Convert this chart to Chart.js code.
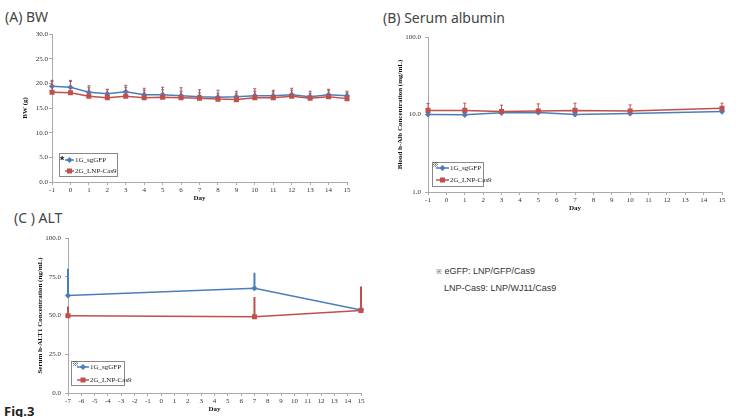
<!DOCTYPE html>
<html>
<head>
<meta charset="utf-8">
<script src="https://cdn.jsdelivr.net/npm/chart.js@4.4.1/dist/chart.umd.min.js"></script>
<style>
  body { margin: 0; width: 740px; height: 417px; background: #fff; position: relative; overflow: hidden; font-family: "Noto Sans", sans-serif; }
  canvas { position: absolute; }
  .title { position: absolute; font-size: 14px; line-height: 18px; color: #444; white-space: nowrap; }
  .fig { position: absolute; left: 4px; top: 403px; font-size: 13px; line-height: 16px; font-weight: bold; color: #222; }
  .note { position: absolute; font-family: "Liberation Sans", sans-serif; font-size: 9px; line-height: 12px; color: #333; white-space: nowrap; }
  .note small { font-size: 7px; }
</style>
</head>
<body>
<div class="title" style="left:5px; top:8px;">(A) BW</div>
<div class="title" style="left:383px; top:9px;">(B) Serum albumin</div>
<div class="title" style="left:14px; top:209px;">(C ) ALT</div>
<div class="fig">Fig.3</div>
<div class="note" style="left:436px; top:265px;"><small>※</small> eGFP: LNP/GFP/Cas9</div>
<div class="note" style="left:444px; top:282px;">LNP-Cas9: LNP/WJ11/Cas9</div>

<canvas id="bw_chart" width="350" height="180" style="left:12px; top:22px;"></canvas>
<canvas id="alb_chart" width="345" height="187" style="left:390px; top:25px;"></canvas>
<canvas id="alt_chart" width="345" height="188" style="left:30px; top:225px;"></canvas>

<script>
const seriesNames = ["1G_sgGFP", "2G_LNP-Cas9"];

// (A) body weight, g
const bwDays = [-1, 0, 1, 2, 3, 4, 5, 6, 7, 8, 9, 10, 11, 12, 13, 14, 15];
const bwSgGFP = [19.4, 19.2, 18.2, 17.9, 18.3, 17.7, 17.7, 17.5, 17.3, 17.2, 17.3, 17.5, 17.5, 17.7, 17.3, 17.7, 17.5];
const bwSgGFPErr = [1.0, 1.2, 0.9, 0.8, 0.9, 0.9, 1.0, 0.9, 0.8, 0.8, 0.7, 0.9, 0.8, 0.9, 0.7, 0.8, 0.6];
const bwLnpCas9 = [18.2, 18.1, 17.4, 17.1, 17.4, 17.1, 17.2, 17.1, 17.0, 16.8, 16.7, 17.1, 17.1, 17.4, 17.0, 17.3, 16.9];
const bwLnpCas9Err = [2.4, 2.5, 2.1, 1.7, 2.2, 1.9, 2.0, 2.0, 1.7, 1.8, 1.7, 1.8, 1.5, 1.6, 1.4, 1.5, 1.5];

// (B) serum albumin, mg/mL (log axis)
const albDays = [-1, 1, 3, 5, 7, 10, 15];
const albSgGFP = [10.0, 9.9, 10.5, 10.6, 10.0, 10.3, 10.9];
const albSgGFPErr = [0.4, 0.4, 0.3, 0.5, 0.3, 0.4, 0.4];
const albLnpCas9 = [11.3, 11.3, 10.9, 11.1, 11.3, 11.1, 12.0];
const albLnpCas9Err = [2.6, 2.7, 2.3, 2.6, 2.7, 2.2, 2.0];
const albTicks = [1, 10, 100];

// (C) ALT, ng/mL
const altDays = [-7, 7, 15];
const altSgGFP = [62.9, 67.6, 53.6];
const altSgGFPErr = [16.6, 9.3, 3.5];
const altLnpCas9 = [49.9, 49.2, 53.3];
const altLnpCas9Err = [5.2, 12.1, 14.7];

const blue = "#4a7ebb";
const red = "#c0504d";
const tickFont = { family: "Liberation Serif", size: 7 };
const titleFont = { family: "Liberation Serif", size: 7, weight: "bold" };

function toPoints(days, values) {
  return days.map((d, i) => ({ x: d, y: values[i] }));
}

// draws upward error bars through the y scale of the chart
const errorBarPlugin = {
  id: "errorBars",
  afterDatasetDraw(chart, args) {
    const ds = chart.data.datasets[args.index];
    if (!ds.errorBars) return;
    const ctx = chart.ctx;
    const yScale = chart.scales.y;
    ctx.save();
    ctx.strokeStyle = ds.errorColor;
    ctx.lineWidth = ds.errorWidth;
    args.meta.data.forEach((pt, j) => {
      const top = yScale.getPixelForValue(ds.data[j].y + ds.errorBars[j]);
      ctx.beginPath();
      ctx.moveTo(pt.x, pt.y);
      ctx.lineTo(pt.x, top);
      if (ds.errorCap) {
        ctx.moveTo(pt.x - ds.errorCap, top);
        ctx.lineTo(pt.x + ds.errorCap, top);
      }
      ctx.stroke();
    });
    ctx.restore();
  }
};

// boxed legend sitting inside the plot area, lower left
const boxLegendPlugin = {
  id: "boxLegend",
  afterDraw(chart, args, opts) {
    const ctx = chart.ctx;
    const area = chart.chartArea;
    const left = area.left + opts.dx;
    const top = area.bottom - opts.dy;
    ctx.save();
    ctx.fillStyle = "#fff";
    ctx.fillRect(left, top, opts.width, opts.height);
    ctx.strokeStyle = "#888";
    ctx.lineWidth = 1;
    ctx.strokeRect(left + 0.5, top + 0.5, opts.width, opts.height);
    chart.data.datasets.forEach((ds, i) => {
      const y = top + opts.rows[i];
      ctx.strokeStyle = ds.borderColor;
      ctx.lineWidth = 1.5;
      ctx.beginPath();
      ctx.moveTo(left + opts.lineFrom, y);
      ctx.lineTo(left + opts.lineTo, y);
      ctx.stroke();
      Chart.helpers.drawPoint(ctx, {
        pointStyle: ds.pointStyle,
        radius: ds.pointRadius,
        borderWidth: 1
      }, left + (opts.lineFrom + opts.lineTo) / 2, y);
      ctx.fillStyle = ds.borderColor;
      ctx.fill();
      ctx.fillStyle = "#222";
      ctx.font = "7px 'Liberation Serif'";
      ctx.textBaseline = "middle";
      ctx.fillText(ds.label, left + opts.lineTo + 1, y);
    });
    ctx.fillStyle = "#222";
    ctx.font = opts.markFont;
    ctx.textBaseline = "middle";
    ctx.fillText(opts.mark, left + opts.markX, top + opts.markY);
    ctx.restore();
  }
};

function makeDatasets(days, gfp, gfpErr, cas9, cas9Err, cap, errWidth) {
  return [{
    label: seriesNames[0],
    data: toPoints(days, gfp),
    borderColor: blue,
    backgroundColor: blue,
    pointStyle: "rectRot",
    pointRadius: 2,
    borderWidth: 1.5,
    errorBars: gfpErr,
    errorColor: blue,
    errorCap: cap,
    errorWidth: errWidth,
    clip: false,
    order: 2
  }, {
    label: seriesNames[1],
    data: toPoints(days, cas9),
    borderColor: red,
    backgroundColor: red,
    pointStyle: "rect",
    pointRadius: 2.5,
    borderWidth: 1.5,
    errorBars: cas9Err,
    errorColor: red,
    errorCap: cap,
    errorWidth: errWidth,
    clip: false,
    order: 1
  }];
}

function render_chart(canvasId, datasets, xRange, yScaleOpts, layout, legendOpts) {
  return new Chart(document.getElementById(canvasId), {
    type: "line",
    data: { datasets: datasets },
    plugins: [errorBarPlugin, boxLegendPlugin],
    options: {
      responsive: false,
      animation: false,
      devicePixelRatio: 1,
      layout: { padding: layout.padding },
      plugins: {
        legend: { display: false },
        tooltip: { enabled: false },
        boxLegend: legendOpts
      },
      scales: {
        x: {
          type: "linear",
          min: xRange[0],
          max: xRange[1],
          afterFit: (scale) => { scale.height = layout.xHeight; },
          ticks: { stepSize: 1, precision: 0, font: tickFont, color: "#333", padding: 1, maxRotation: 0, autoSkip: false },
          grid: { drawOnChartArea: false, tickLength: 3, color: "#aaa" },
          border: { color: "#aaa" },
          title: { display: true, text: "Day", font: titleFont, color: "#111", padding: { top: 1, bottom: 0 } }
        },
        y: Object.assign({
          afterFit: (scale) => { scale.width = layout.yWidth; },
          grid: { drawOnChartArea: false, tickLength: 3, color: "#aaa" },
          border: { color: "#aaa" },
          title: { display: true, text: layout.yTitle, font: titleFont, color: "#111", padding: { top: layout.yTitlePad, bottom: 0 } }
        }, yScaleOpts)
      }
    }
  });
}

render_chart("bw_chart",
  makeDatasets(bwDays, bwSgGFP, bwSgGFPErr, bwLnpCas9, bwLnpCas9Err, 1.5, 1),
  [-1, 15],
  {
    type: "linear", min: 0, max: 30,
    ticks: { stepSize: 5, autoSkip: false, font: tickFont, color: "#333", padding: 1, callback: (v) => v.toFixed(1) }
  },
  { padding: { top: 12, right: 15, bottom: 0, left: 0 }, xHeight: 20, yWidth: 40, yTitle: "BW (g)", yTitlePad: 9 },
  { dx: 7, dy: 29, width: 58, height: 23, rows: [7, 18], lineFrom: 6, lineTo: 15, mark: "*", markX: 1, markY: 8, markFont: "bold 11px 'Liberation Sans'" }
);

render_chart("alb_chart",
  makeDatasets(albDays, albSgGFP, albSgGFPErr, albLnpCas9, albLnpCas9Err, 1.5, 1),
  [-1, 15],
  {
    type: "logarithmic", min: 1, max: 100,
    afterBuildTicks: (axis) => { axis.ticks = albTicks.map(v => ({ value: v, major: true })); },
    ticks: { autoSkip: false, font: tickFont, color: "#333", padding: 4, callback: (v) => Number(v).toFixed(1) }
  },
  { padding: { top: 12, right: 13, bottom: 0, left: 0 }, xHeight: 20, yWidth: 38, yTitle: "Blood h-Alb Concentration (mg/mL)", yTitlePad: 6 },
  { dx: 4, dy: 30, width: 51, height: 24, rows: [6, 18], lineFrom: 4, lineTo: 17, mark: "※", markX: 0, markY: 2, markFont: "7px 'Noto Sans CJK JP'" }
);

render_chart("alt_chart",
  makeDatasets(altDays, altSgGFP, altSgGFPErr, altLnpCas9, altLnpCas9Err, 1, 2),
  [-7, 15],
  {
    type: "linear", min: 0, max: 100,
    ticks: { stepSize: 25, autoSkip: false, font: tickFont, color: "#333", padding: 4, callback: (v) => v.toFixed(1) }
  },
  { padding: { top: 13, right: 14, bottom: 0, left: 0 }, xHeight: 20, yWidth: 38, yTitle: "Serum h-ALT1 Concentration (ng/mL)", yTitlePad: 6 },
  { dx: 3, dy: 32, width: 53, height: 24, rows: [6, 19], lineFrom: 6, lineTo: 18, mark: "※", markX: 1, markY: 2, markFont: "7px 'Noto Sans CJK JP'" }
);
</script>
</body>
</html>
